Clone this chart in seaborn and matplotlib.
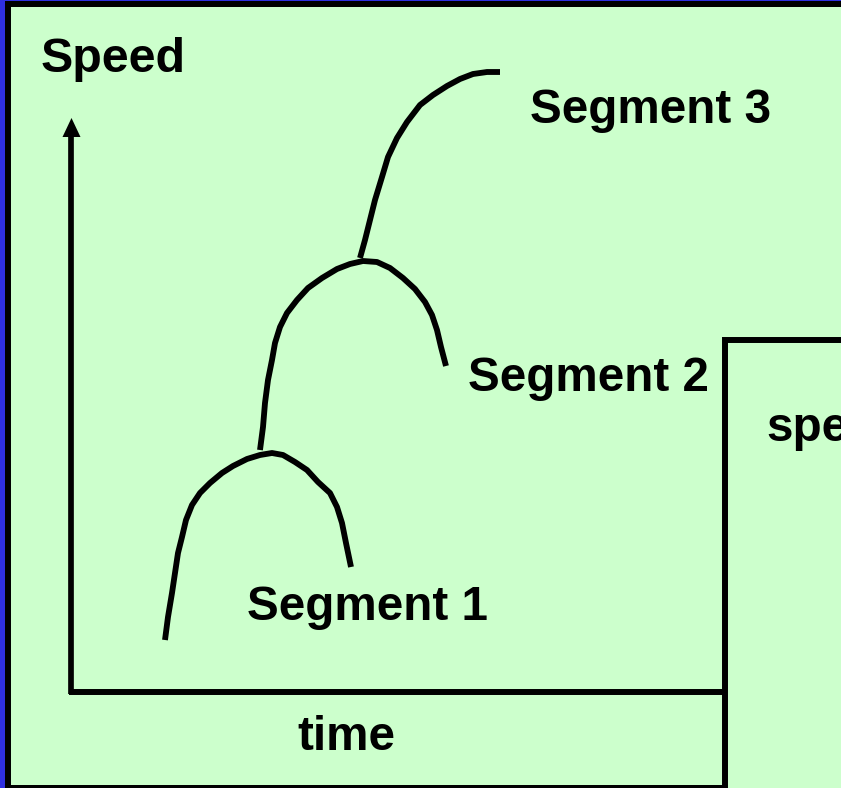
import matplotlib
matplotlib.use("Agg")
import matplotlib.pyplot as plt
import seaborn as sns
import pandas as pd
from matplotlib.patches import Rectangle, Polygon

sns.set_theme(style="white")
plt.rcParams['font.family'] = ['Liberation Sans', 'DejaVu Sans']
plt.rcParams['text.color'] = 'black'

# ---- data (pixel space of the diagram) ----
seg1_x = [165, 168, 172, 175, 178, 182, 186, 192, 200, 210, 222, 233, 247, 260, 272,
          283, 295, 307, 318, 330, 337, 342, 346, 351]
seg1_y = [640, 617, 593, 573, 553, 537, 520, 505, 493, 483, 473, 466, 459, 455, 453,
          455, 462, 470, 482, 493, 507, 523, 543, 567]
seg2_x = [260, 263, 265, 268, 272, 275, 280, 287, 297, 308, 322, 337, 350, 363, 377,
          390, 403, 415, 425, 432, 437, 441, 446]
seg2_y = [450, 427, 403, 380, 360, 343, 327, 313, 300, 288, 278, 269, 264, 261, 262,
          268, 278, 289, 302, 315, 330, 347, 366]
seg3_x = [360, 365, 370, 375, 382, 388, 397, 407, 420, 433, 447, 460, 473, 487, 500]
seg3_y = [258, 240, 220, 200, 177, 157, 138, 122, 105, 95, 86, 79, 74, 72, 72]

labels = ["Segment 1", "Segment 2", "Segment 3"]
label_x = [247, 468, 530]
label_y = [620, 391, 123]

axis_origin = (71.5, 692)
axis_x_end = 725
axis_y_tip = 118

W, H = 841, 788
BLUE = '#2f2fe0'
GREEN = '#ccffcc'

fig = plt.figure(figsize=(W / 100, H / 100), dpi=100, facecolor=BLUE)
ax = fig.add_axes([0, 0, 1, 1])

# frame
ax.add_patch(Rectangle((5, 1), W, H, facecolor='black', edgecolor='none', zorder=0))
ax.add_patch(Rectangle((11, 7), W, 778, facecolor=GREEN, edgecolor='none', zorder=0.5))

# curves
df = pd.concat([
    pd.DataFrame({'x': seg1_x, 'y': seg1_y, 'seg': labels[0]}),
    pd.DataFrame({'x': seg2_x, 'y': seg2_y, 'seg': labels[1]}),
    pd.DataFrame({'x': seg3_x, 'y': seg3_y, 'seg': labels[2]}),
])
sns.lineplot(data=df, x='x', y='y', units='seg', estimator=None, sort=False,
             color='black', linewidth=4.2, ax=ax, legend=False,
             solid_capstyle='butt', solid_joinstyle='round')
ax.set_xlim(0, W)
ax.set_ylim(H, 0)
ax.axis('off')

# axes
ox, oy = axis_origin
ax.plot([ox - 2, axis_x_end], [oy, oy], color='black', lw=4.3, solid_capstyle='butt', zorder=3)
ax.plot([ox, ox], [oy + 2, axis_y_tip + 15], color='black', lw=4.1, solid_capstyle='butt', zorder=3)
ax.add_patch(Polygon([[ox, axis_y_tip], [ox - 9, axis_y_tip + 19], [ox + 9, axis_y_tip + 19]],
                     closed=True, facecolor='black', edgecolor='none', zorder=3))

# right box
ax.add_patch(Rectangle((725, 340), 300, 600, facecolor=GREEN, edgecolor='black',
                       linewidth=4.3, zorder=4))

fs = 34.3
ax.text(41, 72, "Speed", fontsize=34.8, fontweight='bold', va='baseline', ha='left',
        color='black', zorder=5)
for t, x, y in zip(labels, label_x, label_y):
    ax.text(x, y, t, fontsize=fs, fontweight='bold', va='baseline', ha='left',
            color='black', zorder=5)
ax.text(297, 750, "time", fontsize=fs, fontweight='bold', va='baseline', ha='left',
        color='black', zorder=5)
ax.text(766, 441, "spe", fontsize=fs, fontweight='bold', va='baseline', ha='left',
        color='black', zorder=5)

fig.savefig("out.png", dpi=100, facecolor=BLUE)
